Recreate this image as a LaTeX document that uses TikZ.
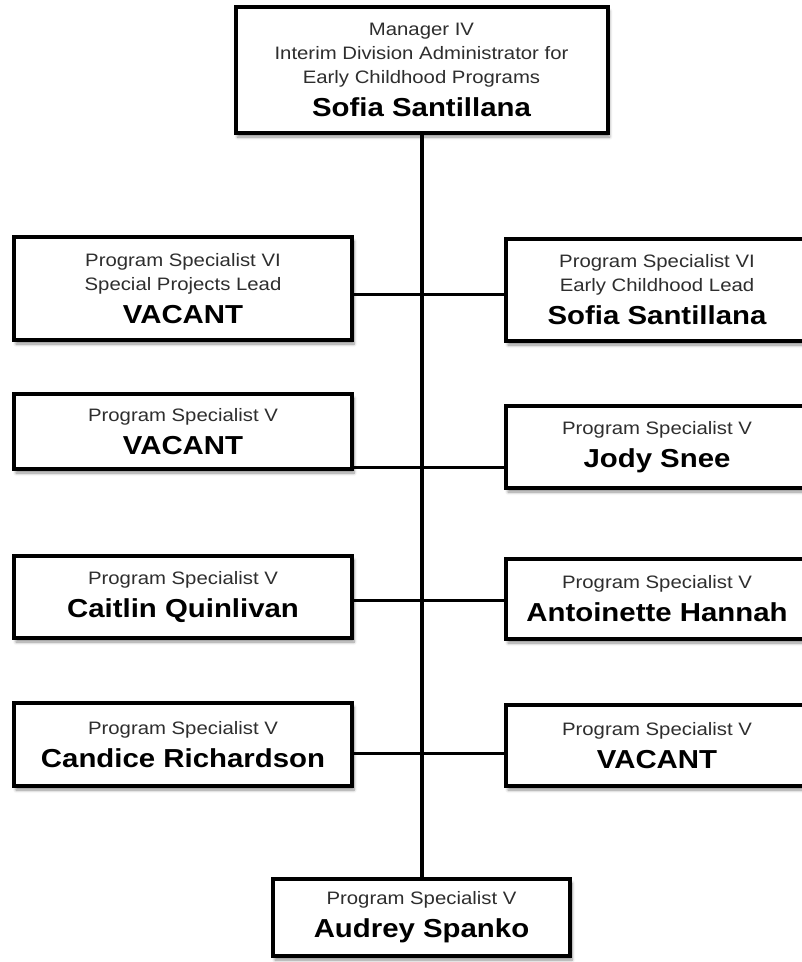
\documentclass[tikz,border=0pt]{standalone}
\usepackage{fontspec}
\setmainfont{Liberation Sans}[FakeStretch=1.13]
\usetikzlibrary{shadows.blur}
\tikzset{
  x=1pt, y=-1pt,
  card/.style={draw=black, line width=4pt, fill=white, rectangle,
    inner sep=0pt, align=center, text=black!82,
    font=\fontsize{18}{24}\selectfont,
    blur shadow={shadow xshift=2pt, shadow yshift=-4pt,
      shadow blur radius=3pt, shadow blur steps=6, shadow opacity=45}},
  leftcard/.style={card, minimum width=338pt},
  rightcard/.style={card, minimum width=302pt},
  trunk/.style={draw=black, line width=4pt},
  link/.style={draw=black, line width=3pt},
}
% name line under the job title
\newcommand\who[1]{\\[9pt]{\fontsize{26}{26}\selectfont\bfseries\color{black}#1}}
\begin{document}
\begin{tikzpicture}
\useasboundingbox (0,0) rectangle (802,962);

% head of division
\node[card, minimum width=372pt, minimum height=126pt] (top) at (421.5,70)
  {Manager IV\\Interim Division Administrator for\\Early Childhood Programs\who{Sofia Santillana}};

% left column
\node[leftcard, minimum height=103pt] (L1) at (183,288.5)
  {Program Specialist VI\\Special Projects Lead\who{VACANT}};
\node[leftcard, minimum height=75pt] (L2) at (183,431.5)
  {Program Specialist V\who{VACANT}};
\node[leftcard, minimum height=82pt] (L3) at (183,597)
  {Program Specialist V\who{Caitlin Quinlivan}};
\node[leftcard, minimum height=83pt] (L4) at (183,744.5)
  {Program Specialist V\who{Candice Richardson}};

% right column
\node[rightcard, minimum height=102pt] (R1) at (657,290)
  {Program Specialist VI\\Early Childhood Lead\who{Sofia Santillana}};
\node[rightcard, minimum height=82pt] (R2) at (657,447)
  {Program Specialist V\who{Jody Snee}};
\node[rightcard, minimum height=80pt] (R3) at (657,599)
  {Program Specialist V\who{Antoinette Hannah}};
\node[rightcard, minimum height=81pt] (R4) at (657,745.5)
  {Program Specialist V\who{VACANT}};

% bottom position
\node[card, minimum width=297pt, minimum height=77pt] (bot) at (421.5,917.5)
  {Program Specialist V\who{Audrey Spanko}};

% connectors
\draw[trunk] (top.south) -- (bot.north);
\coordinate (r1) at (0,294);
\coordinate (r2) at (0,467);
\coordinate (r3) at (0,600);
\coordinate (r4) at (0,753);
\draw[link] (L1.east |- r1) -- (R1.west |- r1);
\draw[link] (L2.east |- r2) -- (R2.west |- r2);
\draw[link] (L3.east |- r3) -- (R3.west |- r3);
\draw[link] (L4.east |- r4) -- (R4.west |- r4);
\end{tikzpicture}
\end{document}
